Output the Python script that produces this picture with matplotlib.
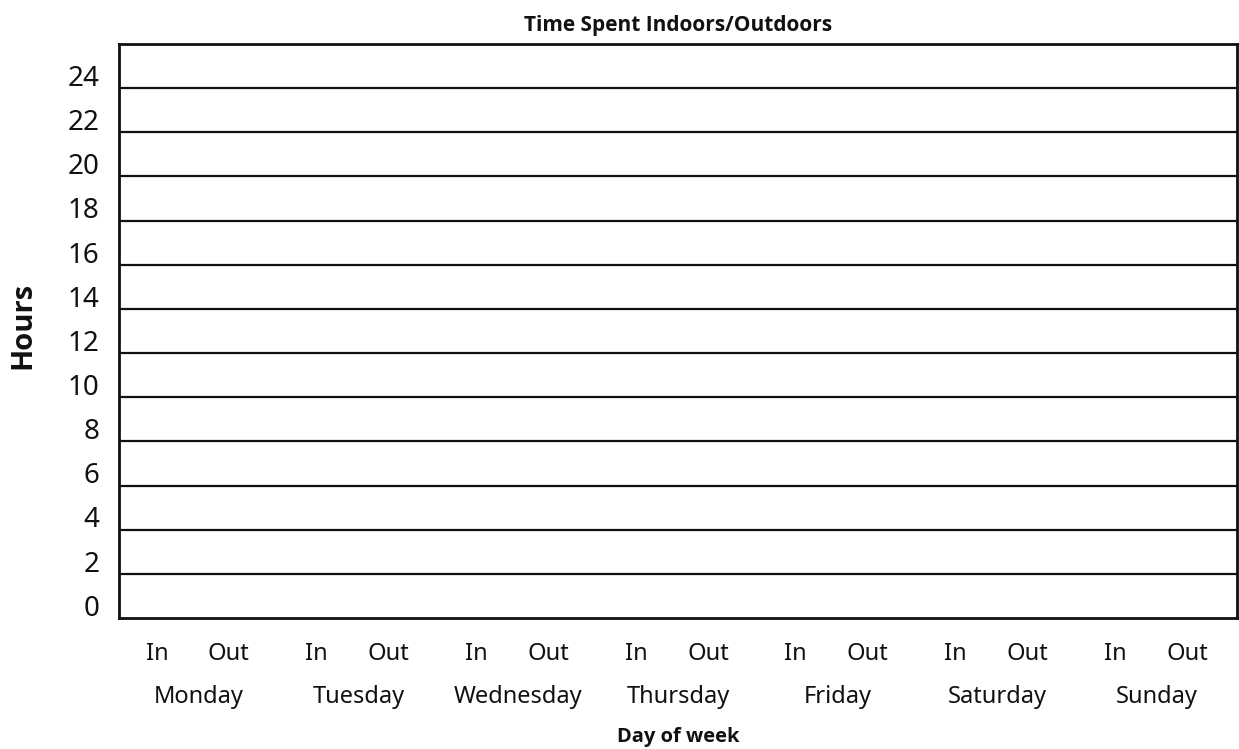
import matplotlib.pyplot as plt
import matplotlib.ticker as mticker
import numpy as np

# 曜日と屋内/屋外の区分
days = ['Monday', 'Tuesday', 'Wednesday', 'Thursday', 'Friday', 'Saturday', 'Sunday']
sides = ['In', 'Out']
# 縦軸の目盛り(2時間ごと)
hour_ticks = list(range(0, 26, 2))
hour_max = 26

plt.rcParams['font.family'] = ['Noto Sans', 'DejaVu Sans']
ink = '#111111'
bold_font = ['Open Sans', 'DejaVu Sans']

fig = plt.figure(figsize=(12.39, 7.49), dpi=100)
ax = fig.add_axes([119 / 1239, 131 / 749, 1118 / 1239, 574 / 749])

# 横線(記入用のマス目)
for h in hour_ticks[1:]:
    ax.axhline(h, color=ink, lw=1.6)

ax.set_xlim(0, len(days))
ax.set_ylim(0, hour_max)

# 縦軸の目盛りラベル(線の少し上に置く)
ax.set_yticks([h + 0.1 for h in hour_ticks])
ax.set_yticklabels([str(h) for h in hour_ticks], fontsize=20, color=ink)
for lab in ax.get_yticklabels():
    lab.set_va('baseline')
ax.tick_params(axis='y', length=0, pad=14)

# 曜日ラベル(主目盛り)とIn/Out(副目盛り)
centers = np.arange(len(days)) + 0.5
ax.set_xticks(centers)
ax.set_xticklabels(days, fontsize=17, color=ink)
in_out_pos = []
in_out_lab = []
for c in centers:
    in_out_pos += [c - 0.2625, c + 0.1875]
    in_out_lab += sides
ax.xaxis.set_minor_locator(mticker.FixedLocator(in_out_pos))
ax.xaxis.set_minor_formatter(mticker.FixedFormatter(in_out_lab))
ax.tick_params(axis='x', which='minor', length=0, pad=17, labelsize=17, labelcolor=ink)
ax.tick_params(axis='x', which='major', length=0, pad=48)

for s in ax.spines.values():
    s.set_linewidth(2)
    s.set_color(ink)

ax.set_title('Time Spent Indoors/Outdoors', fontsize=15, fontweight='bold',
             family=bold_font, color=ink, pad=9)
ax.set_ylabel('Hours', fontsize=21, fontweight='bold', family=bold_font, color=ink)
ax.yaxis.set_label_coords(-82 / 1118, 0.51)
ax.set_xlabel('Day of week', fontsize=14.5, fontweight='bold', family=bold_font, color=ink)
ax.xaxis.set_label_coords(0.5, -124 / 574)
ax.xaxis.label.set_va('baseline')

fig.savefig('out.png', dpi=100)
